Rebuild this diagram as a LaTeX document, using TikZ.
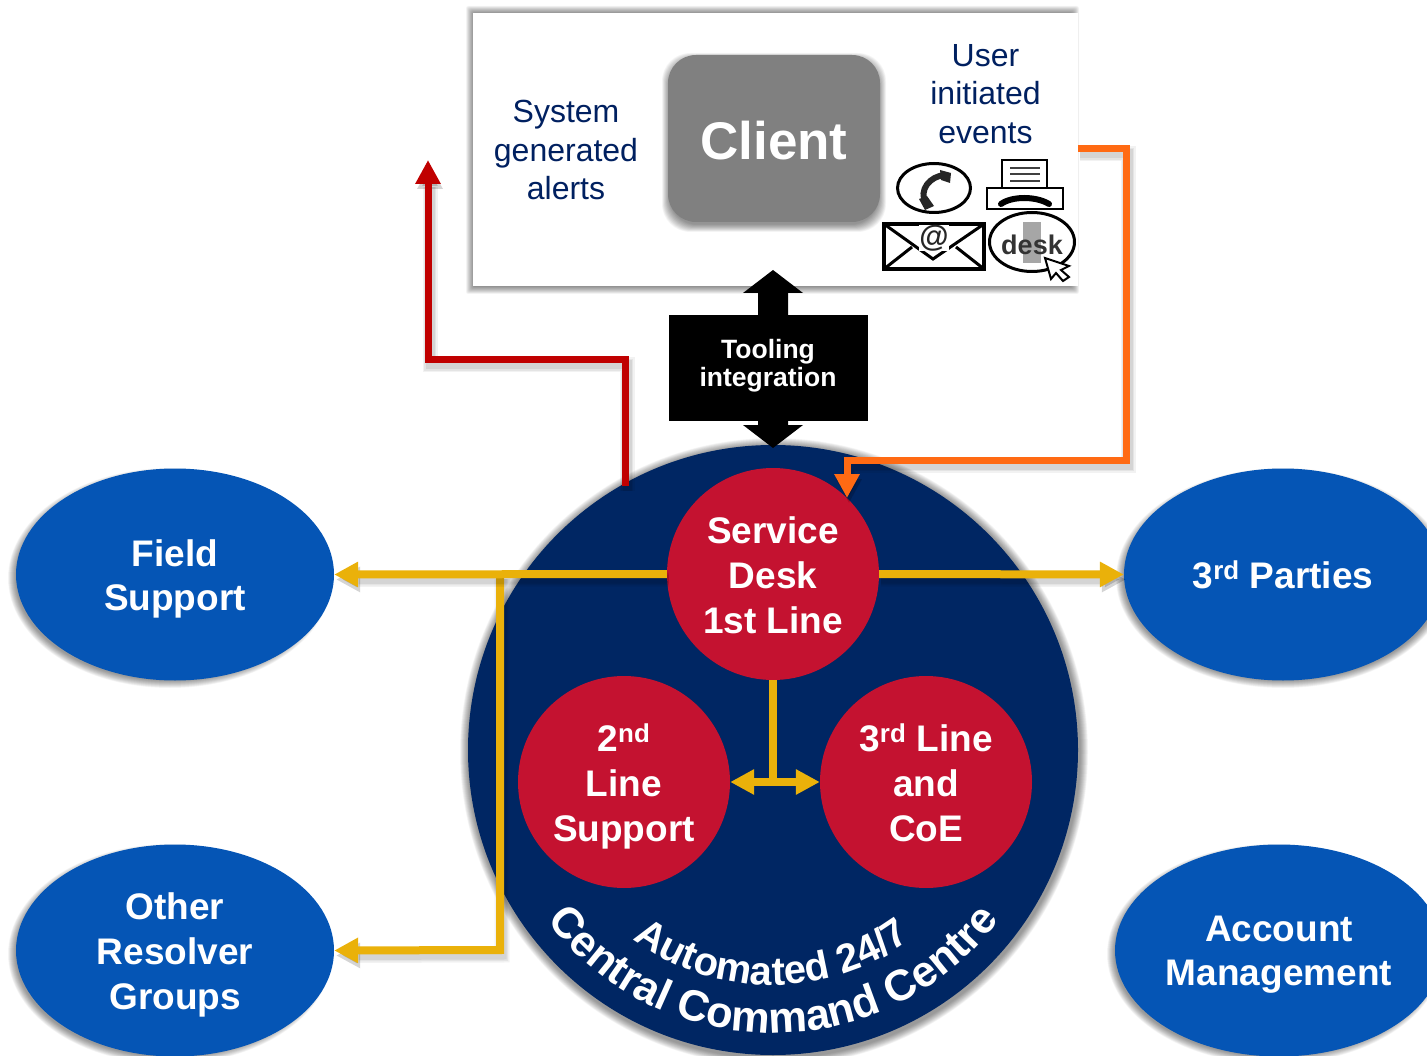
\documentclass[tikz,border=0pt]{standalone}
\usepackage{fontspec}
\setmainfont{Liberation Sans}
\usetikzlibrary{shapes.geometric,arrows.meta,decorations.text,calc}
\definecolor{navy}{HTML}{002663}
\definecolor{redc}{HTML}{C41230}
\definecolor{bluee}{HTML}{0555B5}
\definecolor{yell}{HTML}{EAB10A}
\definecolor{orng}{HTML}{FF6A13}
\definecolor{redl}{HTML}{C00000}
\definecolor{txtn}{HTML}{002060}
\definecolor{greyc}{HTML}{808080}
\newcommand{\softell}[4]{%
  \foreach \k in {0,0.5,...,7.5}{%
    \fill[black,opacity=0.032] (#1,#2) ellipse [x radius={#3-\k},y radius={#4-\k}];
  }}
\newcommand{\softrect}[6]{%
  \foreach \k in {0,0.5,...,7.5}{%
    \fill[black,opacity=#6,rounded corners=#5] (#1+\k,#2+\k) rectangle (#3-\k,#4-\k);
  }}
\newcommand{\lift}[1]{\rule{0pt}{#1pt}}
\tikzset{
  blob/.style={ellipse,inner sep=0pt,fill=bluee,text=white,align=center,font=\fontsize{37}{45}\selectfont\bfseries,minimum width=#1},
  blob/.default=318pt,
  disc/.style={circle,inner sep=0pt,minimum size=212pt,fill=redc,text=white,align=center,font=\fontsize{37}{45}\selectfont\bfseries},
  caption/.style={text=txtn,align=center,font=\fontsize{32}{38.5}\selectfont,inner sep=0pt},
  cast/.style={preaction={draw=black,opacity=.05,line width=15pt,transform canvas={shift={(2pt,-5pt)}}},
               preaction={draw=black,opacity=.06,line width=12pt,transform canvas={shift={(2pt,-5pt)}}},
               preaction={draw=black,opacity=.07,line width=9pt,transform canvas={shift={(2pt,-5pt)}}}},
  yline/.style={draw=yell,line width=8pt},
  yarrow/.style={cast,yline,-{Triangle[length=24pt,width=24pt]}},
  ydouble/.style={yline,{Triangle[length=24pt,width=24pt]}-{Triangle[length=24pt,width=24pt]}},
  icon/.style={draw=black,line width=3pt,fill=white}
}
\begin{document}
\begin{tikzpicture}[x=1pt,y=-1pt]
\useasboundingbox (0,0) rectangle (1427,1056);
% client panel
\softrect{466}{6}{1079}{294}{2}{0.035}
\node[fill=white,minimum width=605pt,minimum height=273pt,inner sep=0pt] (panel) at (775.5,149.5) {};
\softrect{662}{53}{886}{232}{28}{0.032}
\node[fill=greyc,rounded corners=28pt,minimum width=212pt,minimum height=167pt,inner sep=0pt,text=white,font=\fontsize{53}{60}\selectfont\bfseries] (client) at (774,138.5) {\lift{43}Client};
\node[caption] (sys) at (566,150) {System\\generated\\alerts};
\node[caption] (user) at (985.5,94) {User\\initiated\\events};
% outer shapes
\softell{774}{752}{314}{314}
\softell{170}{578}{162}{110}
\softell{170}{954}{162}{110}
\softell{1283}{578}{167}{110}
\softell{1275}{954}{168}{110}
\node[circle,fill=navy,minimum size=610pt,inner sep=0pt] (hub) at (773,750) {};
\node[blob,minimum height=212pt] (field) at (175,574.5) {\lift{35}Field\\[-1pt]Support};
\node[blob,minimum height=212pt] (other) at (175,950.5) {\lift{35}Other\\Resolver\\Groups};
\node[blob,minimum height=212pt] (third) at (1283,574.5) {3\textsuperscript{rd} Parties};
\node[blob=328pt,minimum height=212pt] (acct) at (1279,950.5) {\lift{33}Account\\[-1pt]Management};
% connectors
\coordinate (redup) at (625,360);
\coordinate (redleft) at (428,360);
\coordinate (redend) at (428,160);
\coordinate (redstart) at (625,486);
\draw[cast,draw=redl,line width=7pt,-{Triangle[length=24pt,width=24pt]}] (redstart) -- (redup) -- (redleft) -- (redend);
% tooling
\coordinate (tooltop) at (773,270);
\coordinate (toolbot) at (773,448);
\fill[black] (tooltop) -- ++(30,23) -- ++(-15,0) -- ++(0,132) -- ++(15,0) -- (toolbot) -- ++(-30,-23) -- ++(15,0) -- ++(0,-132) -- ++(-15,0) -- cycle;
\node[fill=black,text=white,minimum width=199pt,minimum height=106pt,inner sep=0pt,align=center,font=\fontsize{26.5}{28}\selectfont\bfseries] (tool) at (768,368) {Tooling\\integration\rule[-10pt]{0pt}{10pt}};
% discs
\node[disc] (sd) at (773,574) {\lift{29}Service\\Desk\\1st Line};
\node[disc] (second) at (624,782) {\lift{36}2\textsuperscript{nd}\\Line\\Support};
\node[disc] (thirdl) at (926,782) {\lift{29}3\textsuperscript{rd} Line\\and\\CoE};
% yellow links
\coordinate (branch) at (500,574);
\coordinate (corner) at (500,950);
\coordinate (sdfoot) at (773,782);
\draw[yarrow] (branch) -- (corner) -- (other.east);
\draw[yarrow] (sd.west) -- (field.east);
\draw[yarrow] (sd.east) -- (third.west);
\draw[yline] (sd.south) -- (sdfoot);
\draw[ydouble] (second.east) -- (thirdl.west);
% orange
\coordinate (oa) at (1126,149);
\coordinate (ob) at (1126,460);
\coordinate (oc) at (847,460);
\coordinate (od) at (847,498);
\coordinate (ostart) at (1078,149);
\draw[cast,draw=orng,line width=7pt,-{Triangle[length=24pt,width=24pt]}] (ostart) -- (oa) -- (ob) -- (oc) -- (od);
% curved text
\path[decorate,decoration={text along path,text align=center,
  text={|\color{white}\fontsize{43.5}{43.5}\selectfont\bfseries|Central Command Centre}}]
  (773,750) ++(150:283) arc[start angle=150,end angle=30,radius=283];
\path[decorate,decoration={text along path,text align=center,
  text={|\color{white}\fontsize{40}{40}\selectfont\bfseries|Automated 24/7}}]
  (772,750) ++(135:235) arc[start angle=135,end angle=45,radius=235];
% icons: phone
\draw[icon] (934,188) ellipse [x radius=36.5,y radius=24.5];
\draw[black!85,line width=6pt,line cap=round] (945,175) .. controls (930,176) and (918,190) .. (926,204);
\fill[black!85] (940,170) -- (951,173) -- (950,183) -- (941,180) -- cycle;
\fill[black!85] (919,199) -- (927,196) -- (934,206) -- (925,210) -- cycle;
% fax
\draw[icon,line width=2.5pt] (1002,160) rectangle (1047,188);
\draw[black!75,line width=2pt] (1010,168) -- (1040,168) (1010,174) -- (1040,174) (1010,181) -- (1040,181);
\draw[icon,line width=2.5pt] (987,188) rectangle (1063,209);
\draw[black,line width=6pt,line cap=round] (1001,204) .. controls (1012,196) and (1036,196) .. (1049,204);
% envelope
\draw[icon,line width=3.5pt] (884,224) rectangle (984,269);
\draw[black,line width=3pt] (884,224) -- (933,259) -- (984,224) (884,269) -- (912,247) (984,269) -- (956,247);
\node[fill=white,inner sep=0pt,font=\fontsize{30}{30}\selectfont\bfseries,text=black!85] (at) at (934,238) {@};
% desk
\draw[icon] (1032,242) ellipse [x radius=42.5,y radius=29.5];
\fill[gray!70] (1023,222) rectangle (1041,263);
\node[inner sep=0pt,font=\fontsize{27}{27}\selectfont\bfseries,text=black!80] (desk) at (1032,245) {desk};
\draw[black,line width=2pt,fill=white] (1045,258) -- (1069,266) -- (1061,270) -- (1069,277) -- (1063,281) -- (1056,273) -- (1051,279) -- cycle;
\end{tikzpicture}
\end{document}
